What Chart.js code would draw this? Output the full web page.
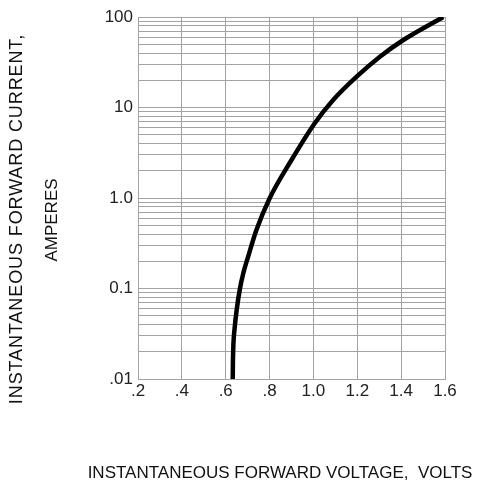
<!DOCTYPE html>
<html>
<head>
<meta charset="utf-8">
<script src="https://cdn.jsdelivr.net/npm/chart.js@4.4.1/dist/chart.umd.min.js"></script>
<style>
  html, body { margin: 0; padding: 0; background: #fff; }
  #wrap { width: 477px; height: 486px; }
</style>
</head>
<body>
<div id="wrap"><canvas id="chart"></canvas></div>
<script>
// forward voltage (V) vs forward current (A)
const voltage = [0.632, 0.633, 0.635, 0.640, 0.650, 0.665, 0.681, 0.702, 0.740, 0.801, 0.900, 1.006, 1.090, 1.197, 1.303, 1.410, 1.592];
const current = [0.01, 0.016, 0.024, 0.035, 0.058, 0.10, 0.15, 0.224, 0.443, 1.0, 2.63, 6.7, 12.1, 21.9, 36.4, 55.7, 100];

const xTickLabels = [".2", ".4", ".6", ".8", "1.0", "1.2", "1.4", "1.6"];
const yDecades = [0.01, 0.1, 1, 10, 100];
const yDecadeLabels = [".01", "0.1", "1.0", "10", "100"];
const yGridValues = [];
yDecades.forEach((d, i) => {
  if (i === yDecades.length - 1) { yGridValues.push(d); return; }
  for (let m = 1; m <= 9; m++) yGridValues.push(+(d * m).toPrecision(3));
});

const xTitle = "INSTANTANEOUS FORWARD VOLTAGE,  VOLTS";
const yTitle = ["INSTANTANEOUS FORWARD CURRENT,", "AMPERES"];

const gridColor = "#a3a3a3";
const fontFamily = "'Liberation Sans', Arial, sans-serif";

// axis titles drawn by hand: the built-in ones get squeezed to the scale length
const axisTitles = {
  id: "axisTitles",
  afterDraw(chart) {
    const ctx = chart.ctx;
    ctx.save();
    ctx.fillStyle = "#111";
    ctx.textAlign = "center";
    ctx.textBaseline = "middle";

    ctx.font = `17px ${fontFamily}`;
    ctx.fillText(xTitle, 280, 473);

    ctx.translate(17, 219);
    ctx.rotate(-Math.PI / 2);
    ctx.font = `18px ${fontFamily}`;
    ctx.letterSpacing = "0.9px";
    ctx.fillText(yTitle[0], 0, 0);
    ctx.letterSpacing = "0px";
    ctx.font = `17px ${fontFamily}`;
    ctx.fillText(yTitle[1], -1, 35.5);
    ctx.restore();
  }
};

new Chart(document.getElementById("chart").getContext("2d"), {
  type: "line",
  data: {
    datasets: [{
      data: voltage.map((v, i) => ({ x: v, y: current[i] })),
      borderColor: "#000",
      borderWidth: 4.5,
      pointRadius: 0,
      cubicInterpolationMode: "monotone",
      fill: false
    }]
  },
  options: {
    responsive: true,
    maintainAspectRatio: false,
    animation: false,
    layout: { padding: { top: 17, right: 32, left: 0, bottom: 0 } },
    plugins: { legend: { display: false }, tooltip: { enabled: false } },
    scales: {
      x: {
        type: "linear",
        min: 0.2,
        max: 1.6,
        afterFit(scale) { scale.height = 107; },
        ticks: {
          stepSize: 0.2,
          padding: 2,
          color: "#222",
          font: { family: fontFamily, size: 17 },
          callback: (value, index) => xTickLabels[index]
        },
        grid: { color: gridColor, drawTicks: false },
        border: { color: gridColor }
      },
      y: {
        type: "logarithmic",
        min: 0.01,
        max: 100,
        afterFit(scale) { scale.width = 138; },
        afterBuildTicks(scale) {
          scale.ticks = yGridValues.map((v) => ({ value: v }));
        },
        ticks: {
          autoSkip: false,
          padding: 5,
          color: "#222",
          font: { family: fontFamily, size: 17 },
          callback(value) {
            const i = yDecades.findIndex((d) => Math.abs(d - value) < d * 1e-6);
            return i >= 0 ? yDecadeLabels[i] : "";
          }
        },
        grid: { color: gridColor, drawTicks: false },
        border: { color: gridColor }
      }
    }
  },
  plugins: [axisTitles]
});
</script>
</body>
</html>
